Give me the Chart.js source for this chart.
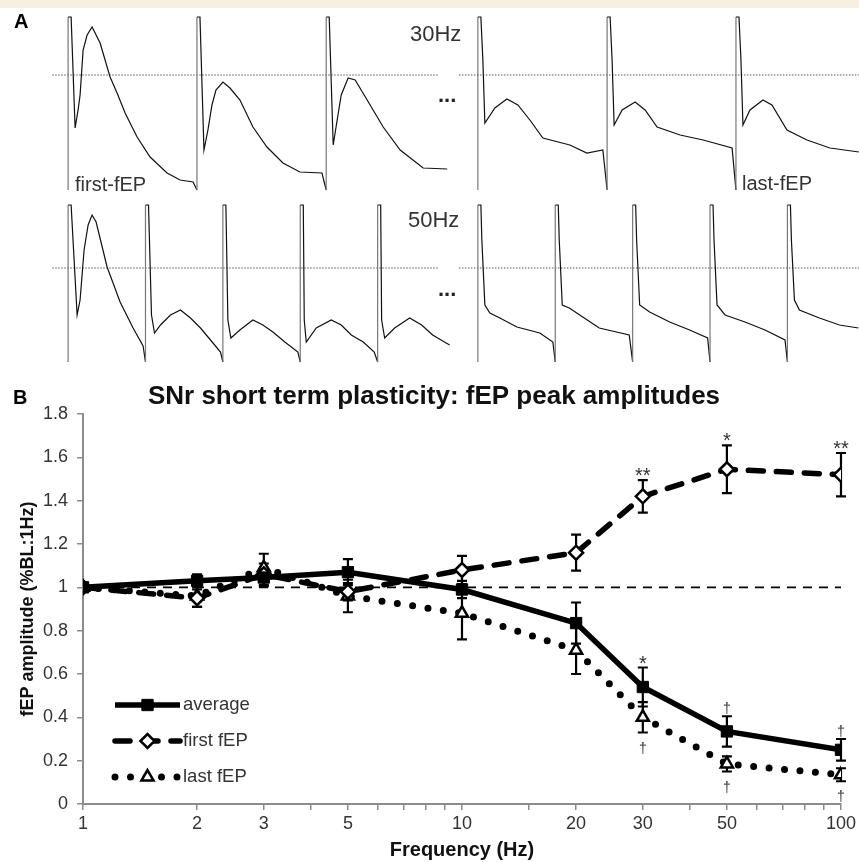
<!DOCTYPE html>
<html lang="en">
<head>
  <meta charset="UTF-8">
  <title>SNr short term plasticity: fEP peak amplitudes</title>
  <script src="https://cdn.jsdelivr.net/npm/chart.js"></script>
  <style>
    body { margin: 0; background: #fff; }
    #fig {
      position: relative; width: 859px; height: 862px; overflow: hidden; background: #fff;
      font-family: 'Liberation Sans', Arial, Helvetica, sans-serif; color: #222;
    }
    .strip { position: absolute; left: 0; top: 0; width: 859px; height: 8px; background: #f5f0e1; }
    .lbl { position: absolute; line-height: 1; white-space: nowrap; }
    .panel { font-weight: bold; font-size: 20px; color: #000; }
    .hz { font-size: 22px; color: #333; }
    .sweep { font-size: 20px; color: #333; }
    .dots { font-size: 22px; font-weight: bold; color: #222; }
    canvas { position: absolute; left: 0; }
  </style>
</head>
<body>
<div id="fig">
  <div class="strip"></div>

  <canvas id="row30" width="859" height="185" style="top:10px"></canvas>
  <canvas id="row50" width="859" height="175" style="top:195px"></canvas>
  <canvas id="ppr" width="859" height="482" style="top:380px"></canvas>

  <div class="lbl panel" style="left:14px; top:11px;">A</div>
  <div class="lbl hz" style="left:410px; top:23px;">30Hz</div>
  <div class="lbl sweep" style="left:75px; top:174px;">first-fEP</div>
  <div class="lbl sweep" style="left:742px; top:173px;">last-fEP</div>
  <div class="lbl dots" style="left:438px; top:84px;">...</div>
  <div class="lbl hz" style="left:408px; top:209px;">50Hz</div>
  <div class="lbl dots" style="left:438px; top:278px;">...</div>
  <div class="lbl panel" style="left:13px; top:387px;">B</div>
</div>

<script>
  // ---------- panel A: example traces ----------
  // stimulus times (ms); the "last" group is drawn after a break in the time axis
  const stim30First = [0, 33.3, 66.7];
  const stim30Last = [105.9, 139.3, 172.6];
  const stim50First = [0, 20, 40, 60, 80];
  const stim50Last = [105.9, 125.9, 145.9, 165.9, 185.9];

  // each sweep: [ms after stimulus, mV]
  const sweeps30First = [
    [[1.81, -0.53], [2.58, -0.35], [3.10, -0.20], [3.88, 0.25], [4.91, 0.40], [6.20, 0.48], [8.27, 0.32],
     [10.85, -0.02], [12.66, -0.18], [14.73, -0.38], [17.83, -0.62], [21.19, -0.82], [25.58, -0.98],
     [28.94, -1.05], [32.30, -1.07]],
    [[1.81, -0.75], [2.84, -0.55], [3.88, -0.30], [4.91, -0.15], [6.72, -0.07], [8.53, -0.13], [11.11, -0.25],
     [14.47, -0.52], [18.09, -0.72], [22.22, -0.88], [26.61, -0.97], [32.30, -0.98]],
    [[1.81, -0.70], [2.84, -0.45], [3.88, -0.20], [5.68, -0.03], [7.49, -0.05], [10.59, -0.25], [14.73, -0.52],
     [19.12, -0.75], [25.06, -0.93], [31.27, -0.94]]
  ];
  const sweeps30Last = [
    [[1.29, 0.15], [1.81, -0.48], [4.39, -0.33], [7.49, -0.24], [10.34, -0.30], [13.44, -0.45], [16.80, -0.63],
     [23.77, -0.70], [28.17, -0.78], [32.30, -0.75]],
    [[1.29, 0.15], [1.81, -0.50], [3.88, -0.35], [7.24, -0.27], [9.82, -0.35], [12.92, -0.52], [18.86, -0.60],
     [24.81, -0.65], [32.30, -0.73]],
    [[1.29, 0.15], [1.81, -0.50], [3.62, -0.35], [6.98, -0.25], [9.30, -0.30], [13.18, -0.55], [18.35, -0.65],
     [24.29, -0.73], [31.78, -0.77]]
  ];
  const sweeps50First = [
    [[2.33, -0.47], [3.10, -0.32], [4.13, 0.18], [5.17, 0.43], [6.20, 0.53], [7.24, 0.46], [10.08, 0.01],
     [13.44, -0.34], [16.80, -0.60], [19.38, -0.78]],
    [[1.55, -0.47], [2.33, -0.65], [3.88, -0.57], [6.46, -0.47], [9.04, -0.42], [11.63, -0.50], [14.21, -0.60],
     [16.80, -0.72], [19.38, -0.84]],
    [[1.29, -0.52], [2.07, -0.70], [4.39, -0.62], [7.75, -0.52], [10.34, -0.57], [12.92, -0.64], [16.02, -0.74],
     [19.38, -0.84]],
    [[1.03, -0.52], [1.55, -0.74], [4.13, -0.60], [8.01, -0.52], [10.59, -0.57], [13.18, -0.67], [16.28, -0.74],
     [19.12, -0.84]],
    [[1.03, -0.52], [1.81, -0.70], [4.39, -0.60], [8.27, -0.50], [11.37, -0.57], [14.21, -0.67], [18.60, -0.77]]
  ];
  const sweeps50Last = [
    [[1.03, 0.28], [1.81, -0.37], [3.10, -0.45], [5.68, -0.50], [10.08, -0.59], [16.02, -0.65], [19.38, -0.74]],
    [[1.03, 0.28], [1.81, -0.37], [3.62, -0.40], [7.49, -0.50], [11.37, -0.60], [19.12, -0.67]],
    [[1.03, 0.28], [1.81, -0.37], [4.39, -0.44], [9.56, -0.54], [14.73, -0.62], [19.38, -0.70]],
    [[1.03, 0.28], [1.81, -0.37], [3.88, -0.47], [9.04, -0.54], [14.21, -0.62], [19.38, -0.72]],
    [[1.03, 0.28], [1.81, -0.32], [3.10, -0.42], [8.27, -0.50], [13.44, -0.57], [18.35, -0.60]]
  ];

  // stimulus artifact extent (mV, clipped) per row
  const art30 = [-1.15, 0.58];
  const art50 = [-0.94, 0.63];
  // dotted 0 mV reference segments (ms)
  const baseFirst = [-4.1, 95.6];
  const baseLast = [101.0, 204.4];

  function buildTrace(stims, sweeps, art) {
    const pts = [];
    stims.forEach((t, i) => {
      pts.push({ x: t, y: art[0] }, { x: t, y: art[1] }, { x: t + 0.78, y: art[1] });
      sweeps[i].forEach(([dt, v]) => pts.push({ x: t + dt, y: v }));
    });
    return pts;
  }

  function baseline() {
    return [
      { x: baseFirst[0], y: 0 }, { x: baseFirst[1], y: 0 },
      { x: (baseFirst[1] + baseLast[0]) / 2, y: null },
      { x: baseLast[0], y: 0 }, { x: baseLast[1], y: 0 }
    ];
  }

  function traceChart(id, groups, art, yMin, yMax) {
    const traceSets = groups.map(([stims, sweeps]) => ({
      data: buildTrace(stims, sweeps, art),
      borderColor: '#111',
      borderWidth: 1.2,
      pointRadius: 0,
      tension: 0,
      segment: {
        borderColor: c => Math.abs(c.p1.parsed.x - c.p0.parsed.x) < 0.01 ? '#777' : undefined
      }
    }));
    new Chart(document.getElementById(id), {
      type: 'line',
      data: {
        datasets: [
          ...traceSets,
          { data: baseline(), borderColor: '#555', borderWidth: 1, borderDash: [1.5, 1.5], pointRadius: 0, spanGaps: false }
        ]
      },
      options: {
        responsive: false,
        animation: false,
        events: [],
        layout: { padding: 0 },
        plugins: { legend: { display: false }, tooltip: { enabled: false } },
        scales: {
          x: { type: 'linear', display: false, min: -17.6, max: 204.4 },
          y: { type: 'linear', display: false, min: yMin, max: yMax }
        }
      }
    });
  }

  traceChart('row30', [[stim30First, sweeps30First], [stim30Last, sweeps30Last]], art30, -1.20, 0.65);
  traceChart('row50', [[stim50First, sweeps50First], [stim50Last, sweeps50Last]], art50, -1.02, 0.73);

  // ---------- panel B: peak amplitudes vs frequency ----------
  const freqs = [1, 2, 3, 5, 10, 20, 30, 50, 100];
  const avgAmp = [1.00, 1.03, 1.045, 1.07, 0.99, 0.835, 0.54, 0.335, 0.25];
  const avgSem = [0, 0.03, 0.04, 0.06, 0.04, 0.095, 0.09, 0.07, 0.05];
  const firstAmp = [1.00, 0.95, 1.06, 0.98, 1.08, 1.16, 1.42, 1.545, 1.52];
  const firstSem = [0, 0.04, 0.05, 0.04, 0.065, 0.083, 0.075, 0.11, 0.10];
  const lastAmp = [1.00, 0.96, 1.09, 0.96, 0.88, 0.71, 0.40, 0.185, 0.135];
  const lastSem = [0, 0.05, 0.065, 0.075, 0.12, 0.11, 0.07, 0.035, 0.03];

  // significance marks (above the error bar for avg/first, below for last)
  const avgMarks = ['', '', '', '', '', '', '*', '†', '†'];
  const firstMarks = ['', '', '', '', '', '', '**', '*', '**'];
  const lastMarks = ['', '', '', '', '', '', '†', '†', '†'];

  const xTickLabels = [1, 2, 3, 5, 10, 20, 30, 50, 100];
  const yTickLabels = ['0', '0.2', '0.4', '0.6', '0.8', '1', '1.2', '1.4', '1.6', '1.8'];

  const FONT = "'Liberation Sans', Arial, Helvetica, sans-serif";
  Chart.defaults.font.family = FONT;
  Chart.defaults.color = '#333';

  const series = [
    { vals: avgAmp, sem: avgSem, marks: avgMarks, below: false },
    { vals: firstAmp, sem: firstSem, marks: firstMarks, below: false },
    { vals: lastAmp, sem: lastSem, marks: lastMarks, below: true }
  ];

  const errorBars = {
    id: 'errorBars',
    beforeDatasetsDraw(chart) {
      const { ctx, scales: { x, y } } = chart;
      ctx.save();
      ctx.strokeStyle = '#000';
      ctx.lineWidth = 2.2;
      series.forEach(s => {
        freqs.forEach((f, i) => {
          if (!s.sem[i]) return;
          const px = x.getPixelForValue(f);
          const top = y.getPixelForValue(s.vals[i] + s.sem[i]);
          const bot = y.getPixelForValue(s.vals[i] - s.sem[i]);
          ctx.beginPath();
          ctx.moveTo(px, top); ctx.lineTo(px, bot);
          ctx.moveTo(px - 5, top); ctx.lineTo(px + 5, top);
          ctx.moveTo(px - 5, bot); ctx.lineTo(px + 5, bot);
          ctx.stroke();
        });
      });
      ctx.restore();
    },
    afterDatasetsDraw(chart) {
      const { ctx, scales: { x, y } } = chart;
      ctx.save();
      ctx.fillStyle = '#333';
      ctx.textAlign = 'center';
      ctx.textBaseline = 'alphabetic';
      series.forEach(s => {
        freqs.forEach((f, i) => {
          const m = s.marks[i];
          if (!m) return;
          const star = m.includes('*');
          ctx.font = (star ? '20px ' : '14px ') + FONT;
          const px = x.getPixelForValue(f);
          if (s.below) {
            ctx.fillText(m, px, y.getPixelForValue(s.vals[i] - s.sem[i]) + 20);
          } else {
            ctx.fillText(m, px, y.getPixelForValue(s.vals[i] + s.sem[i]) + (star ? 2 : -3));
          }
        });
      });
      ctx.restore();
    }
  };

  // legend drawn inside the plot, lower left
  const legendRows = [99, 63, 27];
  const inlineLegend = {
    id: 'inlineLegend',
    afterDraw(chart) {
      const { ctx, chartArea } = chart;
      ctx.save();
      legendRows.forEach((off, di) => {
        const ds = chart.data.datasets[di];
        const y = chartArea.bottom - off;
        const x0 = chartArea.left + 32, x1 = chartArea.left + 97, xm = (x0 + x1) / 2;
        ctx.strokeStyle = '#000';
        ctx.lineWidth = ds.borderWidth;
        ctx.lineCap = ds.borderCapStyle || 'butt';
        ctx.setLineDash(ds.borderDash || []);
        ctx.beginPath(); ctx.moveTo(x0, y); ctx.lineTo(x1, y); ctx.stroke();
        ctx.setLineDash([]);
        ctx.lineCap = 'butt';
        ctx.fillStyle = ds.pointBackgroundColor;
        ctx.lineWidth = ds.pointBorderWidth;
        Chart.helpers.drawPoint(ctx, {
          pointStyle: ds.pointStyle, radius: ds.pointRadius, rotation: 0, borderWidth: ds.pointBorderWidth
        }, xm, y);
        ctx.fillStyle = '#333';
        ctx.font = '18.5px ' + FONT;
        ctx.textAlign = 'left';
        ctx.textBaseline = 'middle';
        ctx.fillText(ds.label, x1 + 3, y);
      });
      ctx.restore();
    }
  };

  const pts = vals => freqs.map((f, i) => ({ x: f, y: vals[i] }));

  new Chart(document.getElementById('ppr'), {
    type: 'line',
    data: {
      datasets: [
        {
          label: 'average', data: pts(avgAmp), borderColor: '#000', borderWidth: 5.5,
          pointStyle: 'rect', pointRadius: 8, pointBackgroundColor: '#000', pointBorderColor: '#000',
          pointBorderWidth: 1, order: 1
        },
        {
          label: 'first fEP', data: pts(firstAmp), borderColor: '#000', borderWidth: 5.5,
          borderDash: [15, 13], borderCapStyle: 'round',
          pointStyle: 'rectRot', pointRadius: 7, pointBackgroundColor: '#fff', pointBorderColor: '#000',
          pointBorderWidth: 2.5, order: 2
        },
        {
          label: 'last fEP', data: pts(lastAmp), borderColor: '#000', borderWidth: 7,
          borderDash: [0, 15.5], borderCapStyle: 'round',
          pointStyle: 'triangle', pointRadius: 7, pointBackgroundColor: '#fff', pointBorderColor: '#000',
          pointBorderWidth: 2.5, order: 3
        },
        {
          label: 'baseline', data: [{ x: 1, y: 1 }, { x: 100, y: 1 }], borderColor: '#000', borderWidth: 1.8,
          borderDash: [9, 7], pointRadius: 0, order: 4
        }
      ]
    },
    options: {
      responsive: false,
      animation: false,
      events: [],
      layout: { padding: { left: 26, right: 17, top: 0, bottom: 0 } },
      plugins: {
        legend: { display: false },
        tooltip: { enabled: false },
        title: {
          display: true,
          text: 'SNr short term plasticity: fEP peak amplitudes',
          color: '#111',
          font: { size: 26, weight: 'bold' },
          padding: { top: 1.5, bottom: 1.3 }
        }
      },
      scales: {
        x: {
          type: 'logarithmic', min: 1, max: 100,
          afterFit: s => { s.height = 58; },
          border: { color: '#8c8c8c', width: 2 },
          grid: { drawOnChartArea: false, drawTicks: true, tickLength: 6, color: '#8c8c8c', lineWidth: 1.5 },
          ticks: {
            autoSkip: false, maxRotation: 0, padding: 3, color: '#333', font: { size: 18 },
            callback: v => xTickLabels.includes(v) ? String(v) : ''
          },
          title: {
            display: true, text: 'Frequency (Hz)', color: '#111',
            font: { size: 20, weight: 'bold' }, padding: { top: 0, bottom: 0 }
          }
        },
        y: {
          type: 'linear', min: 0, max: 1.8,
          afterFit: s => { s.width = 57; },
          border: { color: '#8c8c8c', width: 2 },
          grid: { drawOnChartArea: false, drawTicks: true, tickLength: 6, color: '#8c8c8c', lineWidth: 1.5 },
          ticks: {
            stepSize: 0.2, padding: 9, color: '#333', font: { size: 18 },
            callback: (v, i) => yTickLabels[i]
          },
          title: {
            display: true, text: 'fEP amplitude (%BL:1Hz)', color: '#111',
            font: { size: 18, weight: 'bold' }, padding: { top: -8.8, bottom: 0 }
          }
        }
      }
    },
    plugins: [errorBars, inlineLegend]
  });
</script>
</body>
</html>
